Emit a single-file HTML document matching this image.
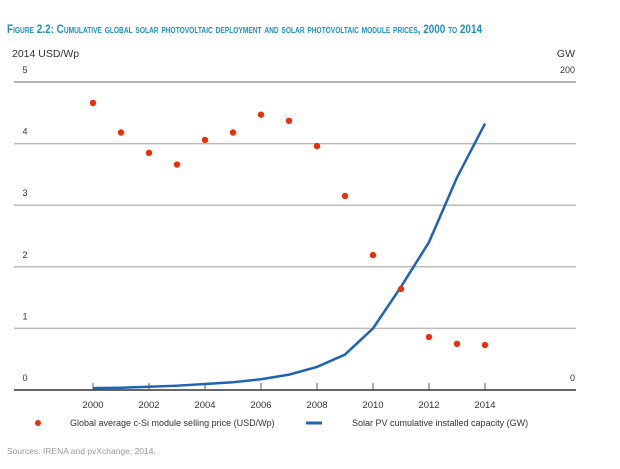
<!DOCTYPE html>
<html><head><meta charset="utf-8"><style>
body{margin:0;background:#fff;width:620px;height:464px;overflow:hidden;font-family:"Liberation Sans",sans-serif}
</style></head><body>
<svg width="620" height="464" font-family="Liberation Sans, sans-serif">
<text x="7" y="33" fill="#1a8fc4" font-size="12" font-weight="bold" style="font-variant:small-caps" textLength="475" lengthAdjust="spacingAndGlyphs">Figure 2.2: Cumulative global solar photovoltaic deployment and solar photovoltaic module prices, 2000 to 2014</text>
<text x="12" y="57" font-size="10.5" fill="#333">2014 USD/Wp</text>
<text x="575" y="57" font-size="10.5" fill="#333" text-anchor="end">GW</text>
<g id="grid"></g><g id="axes"></g><g id="series"></g>
<circle cx="38" cy="423" r="3" fill="#e8300c"/>
<text x="70" y="426" font-size="9" fill="#333">Global average c-Si module selling price (USD/Wp)</text>
<line x1="306" y1="423" x2="322" y2="423" stroke="#1f63b5" stroke-width="3"/>
<text x="352" y="426" font-size="9" fill="#333">Solar PV cumulative installed capacity (GW)</text>
<text x="7" y="454" font-size="8.5" fill="#999">Sources: IRENA and pvXchange, 2014.</text>
</svg>
<script>
const years=[2000,2001,2002,2003,2004,2005,2006,2007,2008,2009,2010,2011,2012,2013,2014];
const priceUSD=[4.66,4.18,3.85,3.66,4.06,4.18,4.47,4.37,3.96,3.15,2.19,1.64,0.86,0.75,0.73];
const capacityGW=[1.2,1.5,2.1,2.8,3.9,5,7,10,15,23,40,67,96,138,173];
const leftTicks=[0,1,2,3,4,5];
const xTickLabels=[2000,2002,2004,2006,2008,2010,2012,2014];
const NS="http://www.w3.org/2000/svg";
const X=y=>93+(y-2000)*28;
const YL=v=>390-v*61.6;
const YR=v=>390-v*1.54;
function mk(t,a,p){const e=document.createElementNS(NS,t);for(const k in a)e.setAttribute(k,a[k]);p.appendChild(e);return e;}
const grid=document.getElementById('grid'),axes=document.getElementById('axes'),ser=document.getElementById('series');
leftTicks.forEach(v=>{
 if(v>0){const l=mk('line',{x1:14,x2:576,y1:YL(v),y2:YL(v),stroke:v==5?'#888':'#bbb','stroke-width':v==5?1.2:1.5},grid);
 
 }
 const t=mk('text',{x:25,y:YL(v)-9,'font-size':9,fill:'#333','text-anchor':'middle'},axes);t.textContent=v;
 
 
});
[[200,YR(200)],[0,YR(0)]].forEach(([v,y])=>{const t=mk('text',{x:575,y:y-9,'font-size':9,fill:'#333','text-anchor':'end'},axes);t.textContent=v;
 
 });
const base=mk('line',{x1:14,x2:576,y1:390,y2:390,stroke:'#333','stroke-width':1.5},axes);


xTickLabels.forEach(y=>{
 const tk=mk('line',{x1:X(y),x2:X(y),y1:383,y2:390,stroke:'#555'},axes);
 
 
 const t=mk('text',{x:X(y),y:408,'font-size':9.5,fill:'#333','text-anchor':'middle'},axes);t.textContent=y;
 
 
});
const pl=mk('polyline',{points:years.map((y,i)=>X(y)+','+YR(capacityGW[i])).join(' '),fill:'none',stroke:'#1f63b5','stroke-width':2.5},ser);


years.forEach((y,i)=>{const c=mk('circle',{cx:X(y),cy:YL(priceUSD[i]),r:3.2,fill:'#e8300c'},ser);
 
 });
</script>
</body></html>
